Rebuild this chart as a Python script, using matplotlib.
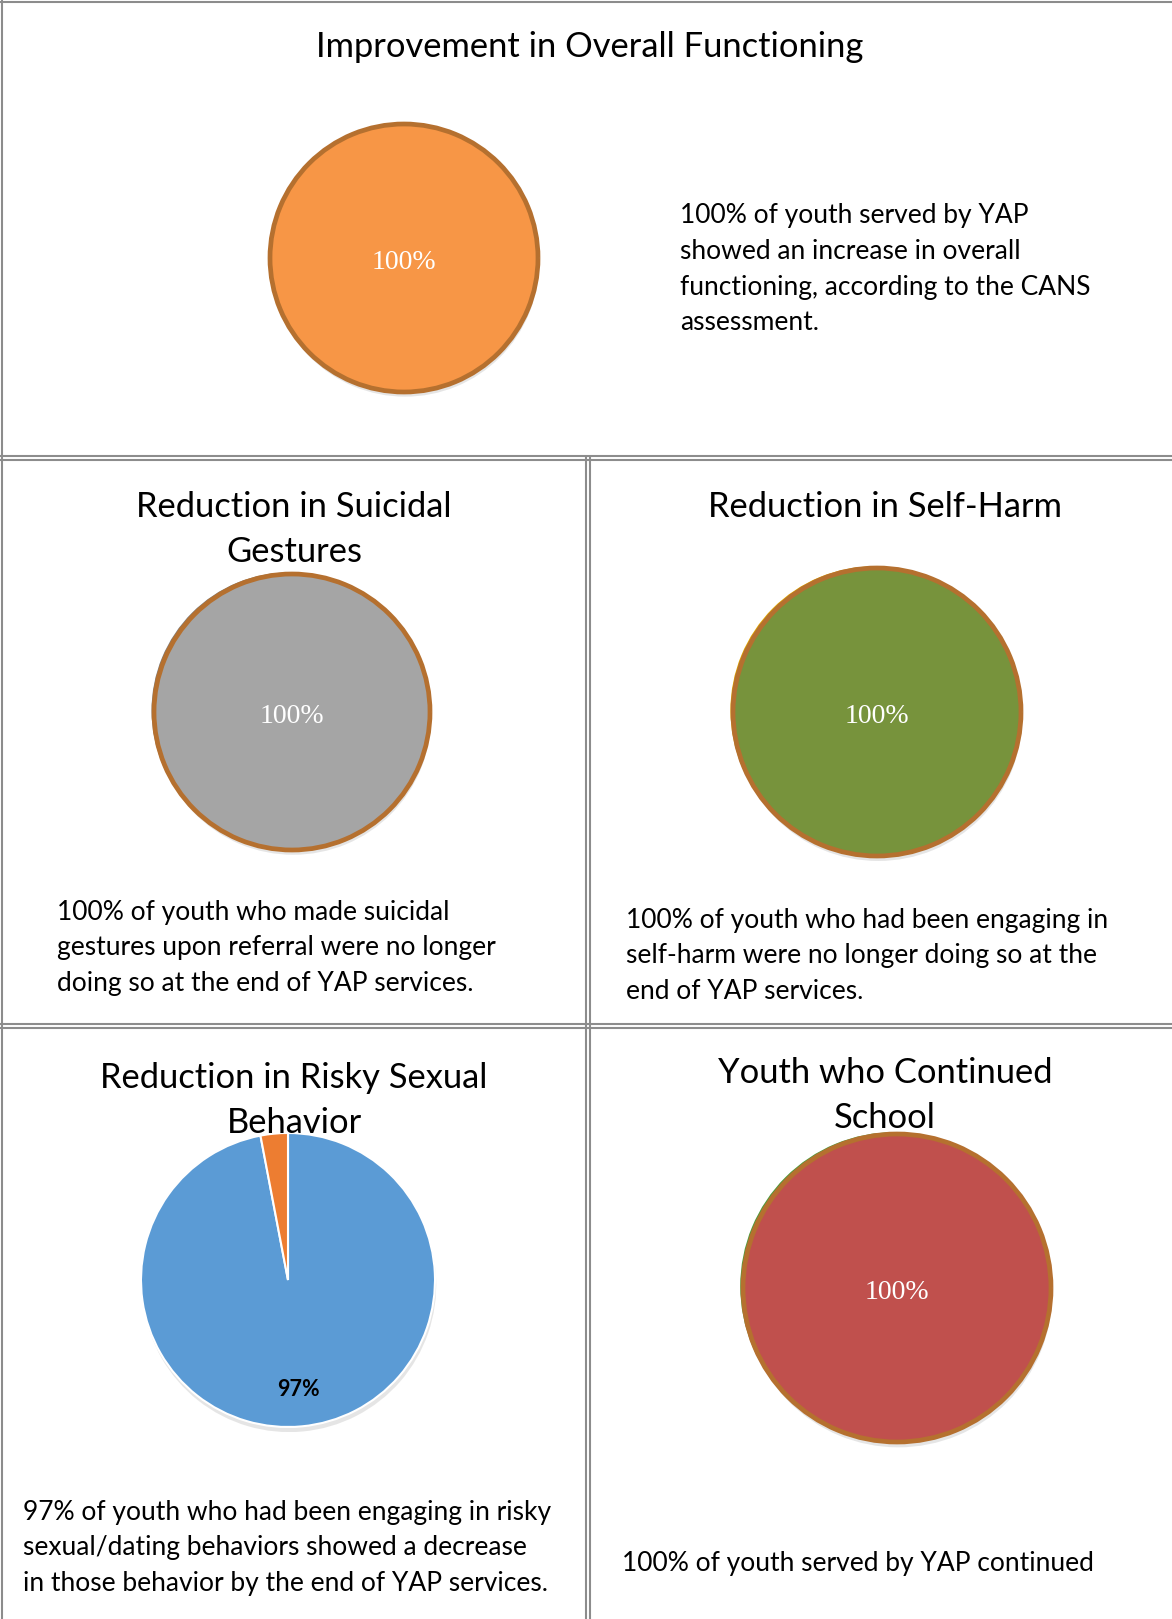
import matplotlib.pyplot as plt
from matplotlib.lines import Line2D

W, H = 1172, 1619
plt.rcParams['font.family'] = ['Lato', 'DejaVu Sans']

# values for each pie
overall = [100]
suicidal = [100]
self_harm = [100]
risky = [97, 3]
school = [100]

titles = ["Improvement in Overall Functioning",
          "Reduction in Suicidal\nGestures",
          "Reduction in Self-Harm",
          "Reduction in Risky Sexual\nBehavior",
          "Youth who Continued\nSchool"]

notes = ["100% of youth served by YAP\nshowed an increase in overall\nfunctioning, according to the CANS\nassessment.",
         "100% of youth who made suicidal\ngestures upon referral were no longer\ndoing so at the end of YAP services.",
         "100% of youth who had been engaging in\nself-harm were no longer doing so at the\nend of YAP services.",
         "97% of youth who had been engaging in risky\nsexual/dating behaviors showed a decrease\nin those behavior by the end of YAP services.",
         "100% of youth served by YAP continued"]

EDGE = '#B5702F'
GRID = '#8C8C8C'

fig = plt.figure(figsize=(W / 100, H / 100), dpi=100)


def fx(x):
    return x / W


def fy(y):
    return 1 - y / H


def hline(y, x0=0, x1=W):
    fig.add_artist(Line2D([fx(x0), fx(x1)], [fy(y), fy(y)], color=GRID, lw=1.5))


def vline(x, y0=0, y1=H):
    fig.add_artist(Line2D([fx(x), fx(x)], [fy(y0), fy(y1)], color=GRID, lw=1.5))


# table borders
hline(2, 1)
vline(2, 1)
for y in (456, 460, 1024, 1028):
    hline(y, 1)
for x in (586, 590):
    vline(x, 458)


def pie_axes(cx, cy, r, m=1.08):
    ax = fig.add_axes([fx(cx - r * m), fy(cy + r * m), 2 * r * m / W, 2 * r * m / H])
    return ax, m


def finish(ax, m):
    # pie() resets the limits, so fix them afterwards
    ax.set_xlim(-m, m)
    ax.set_ylim(-m, m)
    ax.set_aspect('equal')
    ax.axis('off')


shadow = {'ox': 0.006, 'oy': -0.025, 'facecolor': '0.55', 'edgecolor': 'none', 'alpha': 0.22}


def full_pie(cx, cy, r, vals, color, back=None):
    ax, m = pie_axes(cx, cy, r)
    if back is not None:
        ax.pie(vals, colors=[back], center=(-0.018, 0.012), radius=1.0, startangle=90,
               wedgeprops={'linewidth': 0})
    _, _, autotexts = ax.pie(vals, colors=[color], startangle=90, radius=1.0, shadow=shadow,
                             autopct='%d%%', pctdistance=0.0,
                             wedgeprops={'edgecolor': EDGE, 'linewidth': 3.4},
                             textprops={'color': 'white', 'fontsize': 20,
                                        'family': 'Liberation Serif'})
    for t in autotexts:
        t.set_y(-0.03)
    finish(ax, m)


full_pie(404, 258, 134, overall, '#F79646')
full_pie(292, 712, 138, suicidal, '#A5A5A5', back='#7F7F7F')
full_pie(877, 712, 144, self_harm, '#77933C', back='#E0A800')
full_pie(897, 1288, 154, school, '#C0504D', back='#4E9A3A')

# risky behaviour pie
ax, m = pie_axes(288, 1280, 147)
ax.pie(risky, colors=['#5B9BD5', '#ED7D31'], startangle=90, counterclock=False,
       radius=1.0, shadow=shadow,
       autopct=lambda p: f'{p:.0f}%' if p > 50 else '', pctdistance=0.75,
       wedgeprops={'edgecolor': 'white', 'linewidth': 1.5},
       textprops={'color': 'black', 'fontsize': 15.5, 'fontweight': 'bold'})
finish(ax, m)


def put_lines(text, x, y0, dy, ha, size):
    for i, line in enumerate(text.split('\n')):
        fig.text(fx(x), fy(y0 + i * dy), line, ha=ha, va='center', fontsize=size)


# titles
title_pos = [(590, 47), (294, 507), (885, 507), (294, 1078), (885, 1073)]
for t, (x, y) in zip(titles, title_pos):
    put_lines(t, x, y, 45, 'center', 24.8)

# descriptions
note_pos = [(680, 216), (57, 912), (626, 920), (23, 1512), (622, 1563)]
for t, (x, y) in zip(notes, note_pos):
    put_lines(t, x, y, 35.6, 'left', 19)

fig.savefig('out.png', dpi=100)
